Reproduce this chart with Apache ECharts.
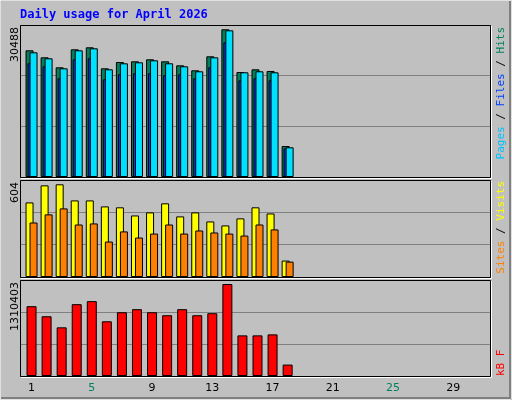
<!DOCTYPE html>
<html><head><meta charset="utf-8">
<script src="https://cdn.jsdelivr.net/npm/echarts@6/dist/echarts.min.js"></script>
<style>html,body{margin:0;padding:0;background:#C0C0C0}#c{width:512px;height:400px}</style>
</head><body><div id="c"></div>
<script>
var days = [];
for (var i = 1; i <= 31; i++) days.push(String(i));
var weekendDays = ['4','5','11','12','18','19','25','26'];
var hits   = [26153,24709,22645,26360,26773,22438,23738,23883,24296,23883,23057,22025,24915,30488,21674,22232,21881,6399];
var files  = [25738,24500,22436,26151,26564,22230,23468,23674,24087,23468,22848,21817,24706,30279,21610,21817,21610,6130];
var pages  = [23468,22848,20372,24293,24500,20165,21197,21404,21404,20991,21197,20372,22642,27802,19959,20372,19959,5924];
var visits = [486,597,604,499,499,460,454,401,421,480,395,421,362,336,382,454,414,107];
var sites  = [355,408,447,342,349,231,297,257,283,342,283,303,290,283,270,342,310,100];
var kbytes = [994760,851285,693463,1023455,1066498,779547,908675,951717,908675,865632,951717,865632,894327,1310403,578682,578682,593030,162604];
var maxLabels = ['30488','604','1310403'];
var axisMax = [31376, 632, 1367792];

var panels = [{top:25,h:152},{top:180,h:97},{top:280,h:96}];
var grids = [], xAxes = [], yAxes = [];
panels.forEach(function(p,i){
  grids.push({left:20,right:21,top:p.top,height:p.h});
});
panels.forEach(function(p,i){
  grids.push({left:24,right:21,top:p.top,height:p.h});
});
for (var g = 0; g < 6; g++) {
  var pi = g % 3;
  xAxes.push({type:'category',gridIndex:g,data:days,
    axisLine:{show:false},axisTick:{show:false},
    axisLabel:{show:g===5,margin:7,fontSize:11,fontFamily:'DejaVu Sans',
      formatter:function(v){return weekendDays.indexOf(v)>=0?'{w|'+v+'}':'{d|'+v+'}';},
      rich:{w:{color:'#008060',fontSize:11,fontFamily:'DejaVu Sans'},d:{color:'#000000',fontSize:11,fontFamily:'DejaVu Sans'}}}});
  yAxes.push({type:'value',gridIndex:g,min:0,max:axisMax[pi],interval:axisMax[pi]/3,
    axisLabel:{show:false},axisLine:{show:false},axisTick:{show:false},
    splitLine:{show:g<3,lineStyle:{color:'#808080',width:1}}});
}
function bar(name,data,g,color,w,gap){
  return {name:name,type:'bar',xAxisIndex:g,yAxisIndex:g,data:data,barWidth:w,barGap:gap,
    itemStyle:{color:color,borderColor:'#000',borderWidth:1},silent:true,animation:false};
}
var series = [
  bar('Hits',hits,3,'#00805C',8,'-75%'),
  bar('Pages',pages,3,'#0040FF',8,'-75%'),
  bar('Files',files,3,'#00E0FF',8,'-75%'),
  bar('Visits',visits,4,'#FFFF00',8,'-50%'),
  bar('Sites',sites,4,'#FF8000',8,'-50%'),
  bar('kB F',kbytes,5,'#FF0000',10,'0%')
];
var graphic = [
  {type:'rect',shape:{x:0,y:0,width:511,height:399},style:{fill:'none',stroke:'#FFFFFF',lineWidth:1},z:-1},
  {type:'polyline',shape:{points:[[1,398],[510,398],[510,1]]},style:{stroke:'#808080',lineWidth:2,fill:'none'}},
  {type:'text',x:20,y:15,style:{text:'Daily usage for April 2026',fill:'#0000FF',font:'bold 12px "DejaVu Sans Mono"',verticalAlign:'middle'}}
];
panels.forEach(function(p,i){
  graphic.push({type:'rect',shape:{x:20.5,y:p.top+0.5,width:470,height:p.h},style:{fill:'none',stroke:'#000',lineWidth:1},z:100});
  graphic.push({type:'polyline',shape:{points:[[21,p.top+p.h+1.5],[491.5,p.top+p.h+1.5],[491.5,p.top+1]]},style:{fill:'none',stroke:'#FFFFFF',lineWidth:1},z:100});
  graphic.push({type:'text',x:15,y:p.top+2,rotation:Math.PI/2,style:{text:maxLabels[i],fill:'#000',font:'11px "DejaVu Sans"',align:'right',verticalAlign:'middle'}});
});
var rf = '11px "DejaVu Sans Mono"';
graphic.push({type:'text',x:501,y:27,rotation:Math.PI/2,style:{text:'{a|Pages}{s| / }{b|Files}{s| / }{c|Hits}',align:'right',verticalAlign:'middle',
  rich:{a:{fill:'#00C0FF',font:rf},b:{fill:'#0040FF',font:rf},c:{fill:'#00805C',font:rf},s:{fill:'#000',font:rf}}}});
graphic.push({type:'text',x:501,y:181,rotation:Math.PI/2,style:{text:'{a|Sites}{s| / }{b|Visits}',align:'right',verticalAlign:'middle',
  rich:{a:{fill:'#FF8000',font:rf},b:{fill:'#FFFF00',font:rf},s:{fill:'#000',font:rf}}}});
graphic.push({type:'text',x:501,y:376,rotation:Math.PI/2,style:{text:'kB F',fill:'#FF0000',font:rf,align:'left',verticalAlign:'middle'}});

var chart = echarts.init(document.getElementById('c'));
chart.setOption({backgroundColor:'#C0C0C0',animation:false,grid:grids,xAxis:xAxes,yAxis:yAxes,series:series,graphic:graphic});
</script></body></html>
